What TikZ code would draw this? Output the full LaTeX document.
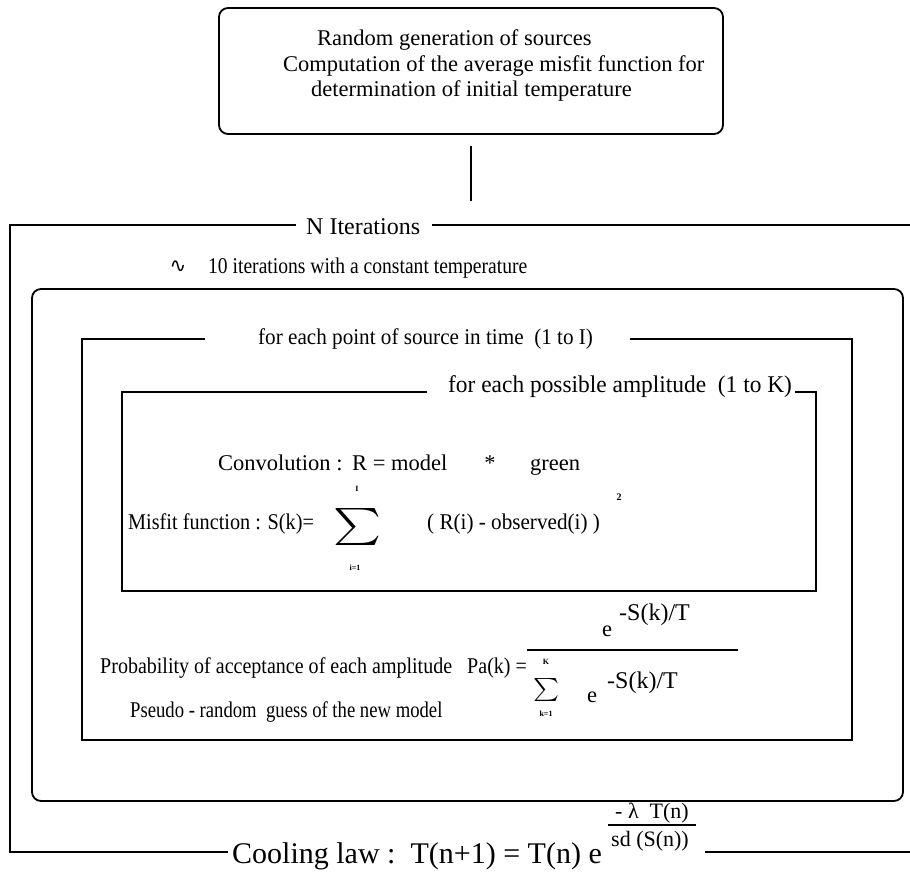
\documentclass[tikz,border=0pt]{standalone}
\usepackage{graphicx}
\usepackage{fontspec}
\setmainfont{Liberation Serif}
\newfontfamily\symfont{DejaVu Sans}
\begin{document}
\begin{tikzpicture}[x=1pt,y=-1pt,
  frame/.style={line width=1.8pt},
  thin/.style={line width=1.3pt},
  t/.style={inner sep=0pt, font=\fontsize{22.5}{27}\selectfont},
  tl/.style={inner sep=0pt, font=\fontsize{24}{28}\selectfont},
  cool/.style={inner sep=0pt, font=\fontsize{30}{36}\selectfont},
  expo/.style={inner sep=0pt, font=\fontsize{24}{28}\selectfont},
  cexpo/.style={inner sep=0pt, font=\fontsize{22}{26}\selectfont},
  tiny/.style={inner sep=0pt, font=\fontsize{8}{9}\selectfont\bfseries},
  sumsign/.style={inner sep=0pt}]
\useasboundingbox (0,0) rectangle (910,879);
% top box
\node[draw, frame, rounded corners=9pt, minimum width=504pt, minimum height=126pt, inner sep=0pt] (init) at (471,71) {};
\node[t, anchor=west] (l1) at (317,40) {Random generation of sources};
\node[t, anchor=west] (l2) at (283,66) {Computation of the average misfit function for};
\node[t, anchor=west] (l3) at (311,91) {determination of initial temperature};
\coordinate (c1) at (471,146);
\coordinate (c2) at (471,201);
\draw[frame] (c1) -- (c2);
% outer loop: N iterations
\node[tl, anchor=west] (niter) at (306,227) {N Iterations};
\draw[frame] (296,225) -- (10,225) -- (10,852) -- (228,852);
\draw[frame] (432,225) -- (910,225);
\draw[frame] (705,852) -- (910,852);
% constant temperature
\node[inner sep=0pt, font=\symfont\fontsize{20}{22}\selectfont] (tilde) at (178,267) {∿};
\node[t, anchor=west] (ten) at (208,268) {\scalebox{0.87}[1]{10 iterations with a constant temperature}};
\node[draw, frame, rounded corners=9pt, minimum width=871pt, minimum height=512pt, inner sep=0pt] (box2) at (467.5,545) {};
% for each point
\node[t, anchor=west] (ptlab) at (258,339) {\scalebox{0.94}[1]{for each point of source in time\ \ (1 to I)}};
\draw[frame] (205,339) -- (82,339) -- (82,740) -- (852,740) -- (852,339) -- (630,339);
% for each amplitude
\node[tl, anchor=west] (amplab) at (448,387) {\scalebox{0.975}[1]{for each possible amplitude\ \ (1 to K)}};
\draw[frame] (427,392) -- (122,392) -- (122,591) -- (816,591) -- (816,392) -- (795,392);
% convolution
\node[t, anchor=base west] (conv1) at (218,470) {Convolution :};
\node[t, anchor=base west] (conv2) at (352,470) {R = model};
\node[t, anchor=base] (conv3) at (490,470) {*};
\node[t, anchor=base west] (conv4) at (530,470) {green};
% misfit
\node[t, anchor=west] (misfit) at (128,524) {\scalebox{0.9}[1]{Misfit function : S(k)=}};
\node[sumsign] (sig1) at (357,527) {\resizebox*{48pt}{37pt}{$\sum$}};
\node[tiny] (sig1top) at (357,489) {I};
\node[tiny] (sig1bot) at (355,568) {i=1};
\node[t, anchor=west] (rterm) at (427,524) {\scalebox{0.94}[1]{( R(i) - observed(i) )}};
\node[tiny, font=\fontsize{10}{10}\selectfont\bfseries] (sq) at (619,497) {2};
% probability
\node[t, anchor=west] (prob) at (100,668) {\scalebox{0.89}[1]{Probability of acceptance of each amplitude\ \ \ Pa(k) =}};
\node[t] (ne) at (607,631) {e};
\node[expo, anchor=west] (nexp) at (619,615) {-S(k)/T};
\coordinate (fl) at (527,650);
\coordinate (fr) at (738,650);
\draw[thin] (fl) -- (fr);
\node[sumsign] (sig2) at (546,690) {\resizebox*{26pt}{23pt}{$\sum$}};
\node[tiny] (sig2top) at (546,662) {K};
\node[tiny] (sig2bot) at (546,714) {k=1};
\node[t] (de) at (592,697) {e};
\node[expo, anchor=west] (dexp) at (607,683) {-S(k)/T};
% pseudo random
\node[t, anchor=west] (pseudo) at (130,712) {\scalebox{0.83}[1]{Pseudo - random\ \ guess of the new model}};
% cooling law
\node[cool, anchor=base west] (cooling) at (232,863) {Cooling law :\ \ T(n+1) = T(n) e};
\node[cexpo, anchor=base] (cnum) at (652,818) {- λ\ \ T(n)};
\coordinate (cl) at (608,825);
\coordinate (cr) at (696,825);
\draw[thin] (cl) -- (cr);
\node[cexpo, anchor=base] (cden) at (650,846) {sd (S(n))};
\end{tikzpicture}
\end{document}
